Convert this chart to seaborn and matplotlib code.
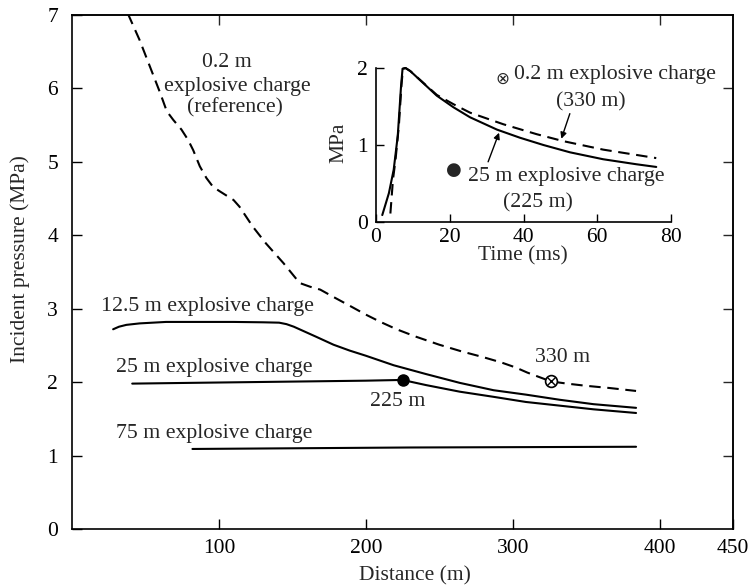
import matplotlib
matplotlib.use("Agg")
import matplotlib.pyplot as plt
import seaborn as sns

# ---------------- main chart data ----------------
ref_dist = [38, 46, 53, 60, 64.5, 69, 74.5, 79, 82.5, 87, 91.5, 96, 100.5, 110, 114, 123, 132, 144,
            150.5, 155, 162, 169, 178, 190, 200, 210, 221, 234, 250, 265, 280, 292, 302, 310, 318,
            326, 337, 350, 366, 384]
ref_p = [7.02, 6.66, 6.30, 5.94, 5.69, 5.57, 5.44, 5.30, 5.16, 4.94, 4.78, 4.66, 4.60, 4.48, 4.39,
         4.12, 3.89, 3.62, 3.46, 3.35, 3.30, 3.26, 3.16, 3.03, 2.92, 2.82, 2.72, 2.62, 2.51, 2.42,
         2.34, 2.27, 2.20, 2.13, 2.07, 2.01, 1.98, 1.95, 1.92, 1.88]

c125_dist = [28, 32, 37, 46, 64, 87, 110, 130, 141, 146, 151, 156, 161, 166, 172, 178, 189, 200,
             219, 241, 264, 287, 309, 332, 355, 384]
c125_p = [2.72, 2.755, 2.78, 2.80, 2.82, 2.82, 2.82, 2.815, 2.81, 2.79, 2.755, 2.71, 2.665, 2.62,
          2.565, 2.51, 2.43, 2.36, 2.23, 2.11, 1.99, 1.89, 1.83, 1.76, 1.70, 1.65]

c25_dist = [41, 80, 120, 160, 200, 225, 241, 264, 287, 309, 332, 355, 384]
c25_p = [1.98, 1.99, 2.00, 2.01, 2.02, 2.03, 1.96, 1.87, 1.80, 1.73, 1.68, 1.63, 1.58]

c75_dist = [82, 230, 384]
c75_p = [1.09, 1.11, 1.12]

point25_dist, point25_p = [225], [2.03]
pointref_dist, pointref_p = [326], [2.01]

x_ticks = [100, 200, 300, 400, 450]
y_ticks = [0, 1, 2, 3, 4, 5, 6, 7]

# ---------------- inset data ----------------
t25 = [1.7, 3.5, 4.8, 5.9, 6.8, 7.2, 8.0, 9.3, 16.5, 21.0, 25.5, 32.8, 39.0, 45.4, 52.6, 61.6,
       70.6, 76.0]
p25 = [0.09, 0.375, 0.68, 1.12, 1.77, 1.99, 2.00, 1.96, 1.64, 1.49, 1.36, 1.20, 1.095, 1.00, 0.905,
       0.815, 0.75, 0.715]
tref = [3.9, 4.6, 5.3, 6.2, 6.9, 7.3, 8.0, 9.3, 16.5, 21.0, 25.5, 34.5, 43.6, 50.8, 61.6, 76.0]
pref = [0.11, 0.55, 0.81, 1.25, 1.77, 1.99, 2.00, 1.96, 1.65, 1.53, 1.42, 1.27, 1.14, 1.05, 0.94,
        0.83]
inset_x_ticks = [0, 20, 40, 60, 80]
inset_y_ticks = [0, 1, 2]

sns.set_theme(style="ticks")
FAM = ['Liberation Serif', 'DejaVu Sans']
plt.rcParams['font.family'] = FAM
FS = 15.5
FA = 15.7

W, H = 755, 586
fig = plt.figure(figsize=(W / 100, H / 100), dpi=100)
fig.patch.set_facecolor('white')

ax = fig.add_axes([72 / W, 1 - 529 / H, (733 - 72) / W, (529 - 15) / H])
ax.set_facecolor('white')
DASH = (0, (5.5, 3.2))
LW = 1.5

sns.lineplot(x=ref_dist, y=ref_p, ax=ax, color='black', lw=LW, linestyle=DASH,
             estimator=None, sort=False)
for xs, ys in [(c125_dist, c125_p), (c25_dist, c25_p), (c75_dist, c75_p)]:
    sns.lineplot(x=xs, y=ys, ax=ax, color='black', lw=LW, estimator=None, sort=False)
ax.lines[0].set_dashes((5.5, 3.2))

ax.plot(point25_dist, point25_p, 'o', color='black', ms=8, zorder=5)
ax.plot(pointref_dist, pointref_p, 'o', mfc='white', mec='black', mew=1.2, ms=8.5, zorder=5)
ax.plot(pointref_dist, pointref_p, 'x', color='black', mew=1.0, ms=5.5, zorder=6)

ax.set_xlim(0, 450)
ax.set_ylim(0, 7)
ax.set_xticks(x_ticks)
ax.set_xticklabels([str(v) for v in x_ticks])
ax.set_yticks(y_ticks)
ax.tick_params(axis='both', direction='in', length=7, width=1.0, labelsize=FS, colors='black')
ax.tick_params(axis='x', pad=7)
ax.tick_params(axis='y', pad=10)
for s in ax.spines.values():
    s.set_visible(True)
    s.set_linewidth(1.2)
    s.set_color('black')

# top / right ticks without labels
axt = ax.secondary_xaxis('top')
axt.set_xticks([100, 200, 300, 400])
axt.tick_params(direction='in', length=7, width=1.0, labeltop=False)
axr = ax.secondary_yaxis('right')
axr.set_yticks([1, 2, 3, 4, 5, 6])
axr.tick_params(direction='in', length=7, width=1.0, labelright=False)
axt.spines['top'].set_linewidth(1.2)
axr.spines['right'].set_linewidth(1.2)

ax.set_xlabel('Distance (m)', fontsize=FS)
ax.set_ylabel('Incident pressure (MPa)', fontsize=FS)
ax.xaxis.set_label_coords((415 - 72) / 661, -0.072)
ax.yaxis.set_label_coords(-0.063, 0.525)

def px(xp, yp):
    return ((xp - 72) / 1.469, (529 - yp) / 73.43)

def t(xp, yp, s, **kw):
    x, y = px(xp, yp)
    ax.text(x, y, s, fontsize=FA, ha='center', va='center', **kw)

t(227, 62, '0.2 m')
t(237, 86, 'explosive charge')
t(235, 108, '(reference)')
t(207, 306, '12.5 m explosive charge')
t(214, 367, '25 m explosive charge')
t(214, 433, '75 m explosive charge')
t(563, 357, '330 m')
t(398, 401, '225 m')

# ---------------- inset ----------------
ia = fig.add_axes([376 / W, 1 - 222 / H, (671 - 376) / W, (222 - 68) / H])
ia.set_facecolor('none')
sns.lineplot(x=t25, y=p25, ax=ia, color='black', lw=LW, estimator=None, sort=False)
sns.lineplot(x=tref, y=pref, ax=ia, color='black', lw=LW, linestyle=DASH,
             estimator=None, sort=False)
ia.lines[1].set_dashes((5.5, 3.2))
for l in ia.lines:
    l.set_clip_on(False)
ia.set_xlim(0, 80)
ia.set_ylim(0, 2)
ia.set_xticks(inset_x_ticks)
ia.set_yticks(inset_y_ticks)
ia.spines['top'].set_visible(False)
ia.spines['right'].set_visible(False)
for s in ['left', 'bottom']:
    ia.spines[s].set_linewidth(1.2)
    ia.spines[s].set_color('black')
ia.tick_params(axis='both', direction='in', length=6, width=1.0, labelsize=FS, colors='black')
ia.tick_params(axis='x', pad=4)
ia.tick_params(axis='y', pad=6)
ia.set_xlabel('Time (ms)', fontsize=FS)
ia.set_ylabel('MPa', fontsize=FS)
ia.xaxis.set_label_coords((523 - 376) / 295, -0.160)
ia.yaxis.set_label_coords(-0.095, 0.513)

def ipx(xp, yp):
    return ((xp - 375.5) / 3.70, (222 - yp) / 76.75)

def it(xp, yp, s, **kw):
    x, y = ipx(xp, yp)
    kw.setdefault('fontsize', FA)
    ia.text(x, y, s, ha='center', va='center', clip_on=False, **kw)

it(502, 79, '⊗', family=['DejaVu Sans'], fontsize=12)
it(615, 75, '0.2 m explosive charge')
it(591, 102, '(330 m)')
it(454, 170, '●', family=['DejaVu Sans'], fontsize=13)
it(566, 177, '25 m explosive charge')
it(538, 203, '(225 m)')

a1 = ipx(570, 114)
a1t = ipx(561.5, 139)
ia.annotate('', xy=a1t, xytext=a1,
            arrowprops=dict(arrowstyle='-|>', color='black', lw=1.0, mutation_scale=9,
                            shrinkA=0, shrinkB=0), annotation_clip=False)
a2 = ipx(488, 162)
a2t = ipx(499, 133)
ia.annotate('', xy=a2t, xytext=a2,
            arrowprops=dict(arrowstyle='-|>', color='black', lw=1.0, mutation_scale=9,
                            shrinkA=0, shrinkB=0), annotation_clip=False)

fig.savefig('out.png', dpi=100, facecolor='white')
